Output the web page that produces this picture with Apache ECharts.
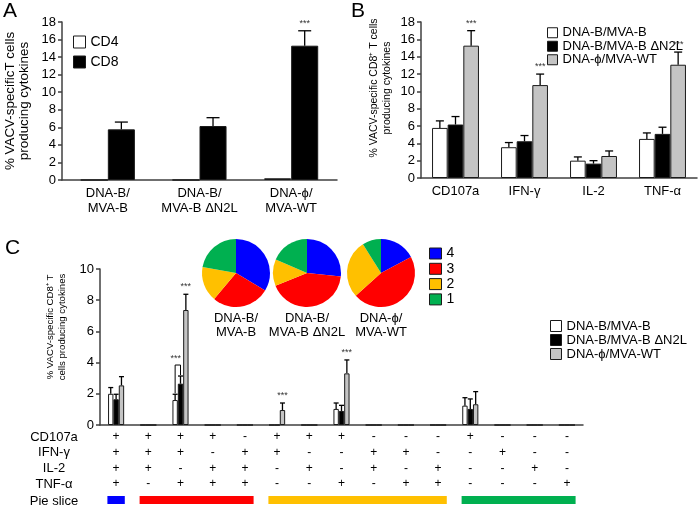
<!DOCTYPE html>
<html><head><meta charset="utf-8">
<script src="https://cdn.jsdelivr.net/npm/echarts@6/dist/echarts.min.js"></script>
<style>html,body{margin:0;padding:0;background:#fff}#c{width:700px;height:506px}</style>
</head><body><div id="c"></div>
<script>
// ---------- Panel A ----------
const catsA = ['DNA-B/\nMVA-B', 'DNA-B/\nMVA-B ΔN2L', 'DNA-ϕ/\nMVA-WT'];
const cd4A = [0, 0, 0.2];
const cd8A = [5.77, 6.15, 15.3];
const cd8ErrA = [0.83, 0.95, 1.7];
const sigA = [0, 0, 1];
const ticksA = [0, 2, 4, 6, 8, 10, 12, 14, 16, 18];

// ---------- Panel B ----------
const groups = ['DNA-B/MVA-B', 'DNA-B/MVA-B ΔN2L', 'DNA-ϕ/MVA-WT'];
const catsB = ['CD107a', 'IFN-γ', 'IL-2', 'TNF-α'];
const bWhite = [5.78, 3.55, 2.0, 4.51];
const bWhiteErr = [0.81, 0.54, 0.43, 0.69];
const bBlack = [6.17, 4.24, 1.66, 5.09];
const bBlackErr = [0.92, 0.66, 0.34, 0.77];
const bGrey = [15.27, 10.72, 2.54, 13.07];
const bGreyErr = [1.73, 1.27, 0.58, 1.46];
const sigB = [1, 1, 0, 1];

// ---------- Panel C ----------
const rowNames = ['CD107a', 'IFN-γ', 'IL-2', 'TNF-α', 'Pie slice'];
const rowCD107a = ['+','+','+','+','-','+','+','+','-','-','-','+','-','-','-'];
const rowIFN    = ['+','+','+','-','+','+','-','-','+','+','-','-','+','-','-'];
const rowIL2    = ['+','+','-','+','+','-','+','-','+','-','+','-','-','+','-'];
const rowTNF    = ['+','-','+','+','+','-','-','+','-','+','+','-','-','-','+'];
const catsC = rowCD107a.map((s, k) => rowCD107a[k] + rowIFN[k] + rowIL2[k] + rowTNF[k]);
const cWhite    = [2.0, 0, 1.6, 0, 0, 0, 0, 1.03, 0, 0, 0, 1.24, 0, 0, 0];
const cWhiteErr = [0.4, null, 0.37, null, null, null, null, 0.38, null, null, null, 0.51, null, null, null];
const cBlack    = [1.65, 0, 2.65, 0, 0, 0, 0, 0.9, 0, 0, 0, 1.03, 0, 0, 0];
const cBlackErr = [0.32, null, 0.49, null, null, null, null, 0.36, null, null, null, 0.64, null, null, null];
const cGrey     = [2.54, 0, 7.37, 0, 0, 0.96, 0, 3.31, 0, 0, 0, 1.33, 0, 0, 0];
const cGreyErr  = [0.56, null, 1.01, null, null, 0.45, null, 0.86, null, null, null, 0.81, null, null, null];
const sigC      = [0, 0, 1, 0, 0, 1, 0, 1, 0, 0, 0, 0, 0, 0, 0];
const bracketC  = [[2, 0, 1]]; // [category, left series, right series]
const ticksC = [0, 2, 4, 6, 8, 10];

// ---------- Pies ----------
const pieNames = ['4', '3', '2', '1'];
const pieB = [33.6, 27.5, 16.7, 22.2];
const pieN2L = [26.7, 42.4, 12.6, 18.6];
const pieWT = [17.2, 46.1, 27.8, 8.9];
const sliceRanges = [['4', 0, 0], ['3', 1, 4], ['2', 5, 10], ['1', 11, 14]];

// ---------- styles ----------
const FONT = 'Liberation Sans, Arial, sans-serif';
const pieColors = { '4': '#0000ff', '3': '#ff0000', '2': '#ffc000', '1': '#00b050' };
const barFill = ['#ffffff', '#000000', '#c4c4c4'];
const AX = '#404040';

function xAxisCfg(gridIndex, data, labelExtra) {
  return Object.assign({
    type: 'category', gridIndex, data,
    axisLine: { lineStyle: { color: AX, width: 1.5 } },
    axisTick: { length: 5, lineStyle: { color: AX, width: 1.5 } },
    axisLabel: Object.assign({ color: '#000', fontSize: 13, fontFamily: FONT, interval: 0 }, labelExtra || {})
  });
}
function yAxisCfg(gridIndex, max, interval, name, nameGap, fs, lh, namePad) {
  return {
    type: 'value', gridIndex, min: 0, max, interval,
    splitLine: { show: false },
    axisLine: { show: true, lineStyle: { color: AX, width: 1.5 } },
    axisTick: { show: true, length: 4, lineStyle: { color: AX, width: 1.5 } },
    axisLabel: { color: '#000', fontSize: 13, fontFamily: FONT, margin: 6 },
    name, nameLocation: 'middle', nameRotate: 90, nameGap,
    nameTextStyle: { color: '#000', fontSize: fs, lineHeight: lh, fontFamily: FONT, padding: namePad || 0 }
  };
}
function barSeries(name, axis, data, colorIdx, gap) {
  return {
    type: 'bar', name, xAxisIndex: axis, yAxisIndex: axis, data,
    barGap: '0%', barCategoryGap: gap, z: 3,
    itemStyle: { color: barFill[colorIdx], borderColor: '#1a1a1a', borderWidth: 1 }
  };
}
function errSeries(axis, vals, errs, sigs, idx, n, gapFrac, cap) {
  const data = [];
  vals.forEach((v, k) => { if (errs[k] != null) data.push([k, v, errs[k], sigs ? sigs[k] : 0]); });
  return {
    type: 'custom', xAxisIndex: axis, yAxisIndex: axis, z: 5, data,
    encode: { x: 0, y: 1 }, silent: true,
    renderItem: function (p, api) {
      const k = api.value(0), v = api.value(1), e = api.value(2), s = api.value(3);
      const band = api.size([1, 0])[0];
      const group = band * (1 - gapFrac), bw = group / n;
      const cx = api.coord([k, 0])[0] - group / 2 + bw * (idx + 0.5);
      const yBar = api.coord([k, v])[1], yTop = api.coord([k, v + e])[1];
      const st = { stroke: '#000', lineWidth: 1.3 };
      const ch = [
        { type: 'line', shape: { x1: cx, y1: yBar, x2: cx, y2: yTop }, style: st },
        { type: 'line', shape: { x1: cx - cap / 2, y1: yTop, x2: cx + cap / 2, y2: yTop }, style: st }
      ];
      if (s) ch.push({ type: 'text', x: cx, y: yTop - 3, style: { text: '***', fontSize: 9, fill: '#333', align: 'center', verticalAlign: 'bottom', fontFamily: FONT } });
      return { type: 'group', children: ch };
    }
  };
}

const cVals = [cWhite, cBlack, cGrey], cErrs = [cWhiteErr, cBlackErr, cGreyErr];
const legendBase = { orient: 'vertical', padding: 0, icon: 'rect', itemStyle: { borderColor: '#1a1a1a', borderWidth: 1 } };

const option = {
  animation: false,
  textStyle: { fontFamily: FONT },
  grid: [
    { left: 62, top: 22, width: 275, height: 158 },
    { left: 421, top: 22, width: 276, height: 156 },
    { left: 100, top: 269, width: 483, height: 156 }
  ],
  xAxis: [
    xAxisCfg(0, catsA, { lineHeight: 15, margin: 6 }),
    xAxisCfg(1, catsB, { margin: 7 }),
    xAxisCfg(2, catsC, {
      fontSize: 12, lineHeight: 15.7, margin: 4,
      formatter: function (v, k) { return [rowCD107a[k], rowIFN[k], rowIL2[k], rowTNF[k]].join('\n'); }
    })
  ],
  yAxis: [
    yAxisCfg(0, ticksA[ticksA.length - 1], ticksA[1] - ticksA[0], '% VACV-specificT cells\nproducing cytokines', 31, 13.4, 14),
    yAxisCfg(1, ticksA[ticksA.length - 1], ticksA[1] - ticksA[0], '% VACV-specific CD8⁺ T cells\nproducing cytokines', 27, 10.5, 13.5, [0, 0, 0, 24]),
    yAxisCfg(2, ticksC[ticksC.length - 1], ticksC[1] - ticksC[0], '% VACV-specific CD8⁺ T\ncells producing cytokines', 31, 9.6, 12.5, [0, 0, 0, 40])
  ],
  legend: [
    Object.assign({ data: ['CD4', 'CD8'], left: 73, top: 35, itemWidth: 12, itemHeight: 12, itemGap: 6,
      textStyle: { fontSize: 14, lineHeight: 14, color: '#000', fontFamily: FONT } }, legendBase),
    Object.assign({ data: groups, left: 547, top: 26, itemWidth: 10, itemHeight: 10, itemGap: 0,
      textStyle: { fontSize: 13, lineHeight: 13.5, color: '#000', fontFamily: FONT } }, legendBase),
    Object.assign({ data: groups, left: 550, top: 319, itemWidth: 11, itemHeight: 11, itemGap: 0,
      textStyle: { fontSize: 13, lineHeight: 14, color: '#000', fontFamily: FONT } }, legendBase),
    Object.assign({ data: pieNames, left: 429, top: 246, itemWidth: 12, itemHeight: 11, itemGap: 0.3,
      textStyle: { fontSize: 14, lineHeight: 15, color: '#000', fontFamily: FONT } }, legendBase)
  ],
  series: [
    barSeries('CD4', 0, cd4A, 0, '41%'),
    barSeries('CD8', 0, cd8A, 1, '41%'),
    errSeries(0, cd8A, cd8ErrA, sigA, 1, 2, 0.41, 13),

    barSeries(groups[0], 1, bWhite, 0, '32%'),
    barSeries(groups[1], 1, bBlack, 1, '32%'),
    barSeries(groups[2], 1, bGrey, 2, '32%'),
    errSeries(1, bWhite, bWhiteErr, null, 0, 3, 0.32, 8),
    errSeries(1, bBlack, bBlackErr, null, 1, 3, 0.32, 8),
    errSeries(1, bGrey, bGreyErr, sigB, 2, 3, 0.32, 8),

    barSeries(groups[0], 2, cWhite, 0, '50%'),
    barSeries(groups[1], 2, cBlack, 1, '50%'),
    barSeries(groups[2], 2, cGrey, 2, '50%'),
    errSeries(2, cWhite, cWhiteErr, null, 0, 3, 0.5, 5),
    errSeries(2, cBlack, cBlackErr, null, 1, 3, 0.5, 5),
    errSeries(2, cGrey, cGreyErr, sigC, 2, 3, 0.5, 5),
    {
      type: 'custom', xAxisIndex: 2, yAxisIndex: 2, z: 6, silent: true, data: bracketC, encode: { x: 0 },
      renderItem: function (p, api) {
        const k = api.value(0), a = api.value(1), b = api.value(2);
        const band = api.size([1, 0])[0], group = band * 0.5, bw = group / 3;
        const x0 = api.coord([k, 0])[0] - group / 2;
        const xa = x0 + bw * (a + 0.5), xb = x0 + bw * (b + 0.5);
        const ya = api.coord([k, cVals[a][k] + cErrs[a][k]])[1] - 1;
        const yb = api.coord([k, cVals[b][k] + cErrs[b][k]])[1] - 1;
        const yt = Math.min(ya, yb) - 10;
        return { type: 'group', children: [
          { type: 'polyline', shape: { points: [[xa, ya], [xa, yt], [xb, yt], [xb, yb]] }, style: { stroke: '#000', lineWidth: 1, fill: null } },
          { type: 'text', x: (xa + xb) / 2 - 2, y: yt - 2, style: { text: '***', fontSize: 9, fill: '#333', align: 'center', verticalAlign: 'bottom', fontFamily: FONT } }
        ] };
      }
    },
    {
      type: 'custom', xAxisIndex: 2, yAxisIndex: 2, z: 6, silent: true, clip: false,
      data: sliceRanges.map(r => [r[1], r[2], r[0]]), encode: { x: [0, 1] },
      renderItem: function (p, api) {
        const s = api.value(0), e = api.value(1), nm = sliceRanges[p.dataIndex][0];
        const band = api.size([1, 0])[0];
        const x0 = api.coord([s, 0])[0] - band * 0.27, x1 = api.coord([e, 0])[0] + band * 0.27;
        const y0 = api.coord([s, 0])[1] + 71;
        return { type: 'rect', shape: { x: x0, y: y0, width: x1 - x0, height: 8 }, style: { fill: pieColors[nm] } };
      }
    },
    ...[[pieB, 236], [pieN2L, 307], [pieWT, 381]].map(([vals, cx]) => ({
      type: 'pie', center: [cx, 273], radius: 34, startAngle: 90, clockwise: true,
      label: { show: false }, labelLine: { show: false }, silent: true,
      data: pieNames.map((nm, i) => ({ name: nm, value: vals[i], itemStyle: { color: pieColors[nm] } }))
    }))
  ],
  graphic: [
    { type: 'text', left: 3, top: 1, style: { text: 'A', fontSize: 21, fill: '#000', fontFamily: FONT } },
    { type: 'text', left: 351, top: 1, style: { text: 'B', fontSize: 21, fill: '#000', fontFamily: FONT } },
    { type: 'text', left: 5, top: 238, style: { text: 'C', fontSize: 21, fill: '#000', fontFamily: FONT } },
    ...rowNames.map((t, i) => ({ type: 'text', x: 54, y: [437, 452, 468, 484, 501][i],
      style: { text: t, fontSize: 13, fill: '#000', align: 'center', verticalAlign: 'middle', fontFamily: FONT } })),
    ...catsA.map((t, i) => ({ type: 'text', x: [236, 307, 381][i], y: 311,
      style: { text: t, fontSize: 13, lineHeight: 14, fill: '#000', align: 'center', verticalAlign: 'top', fontFamily: FONT } }))
  ]
};
const chart = echarts.init(document.getElementById('c'));
chart.setOption(option);
</script></body></html>
